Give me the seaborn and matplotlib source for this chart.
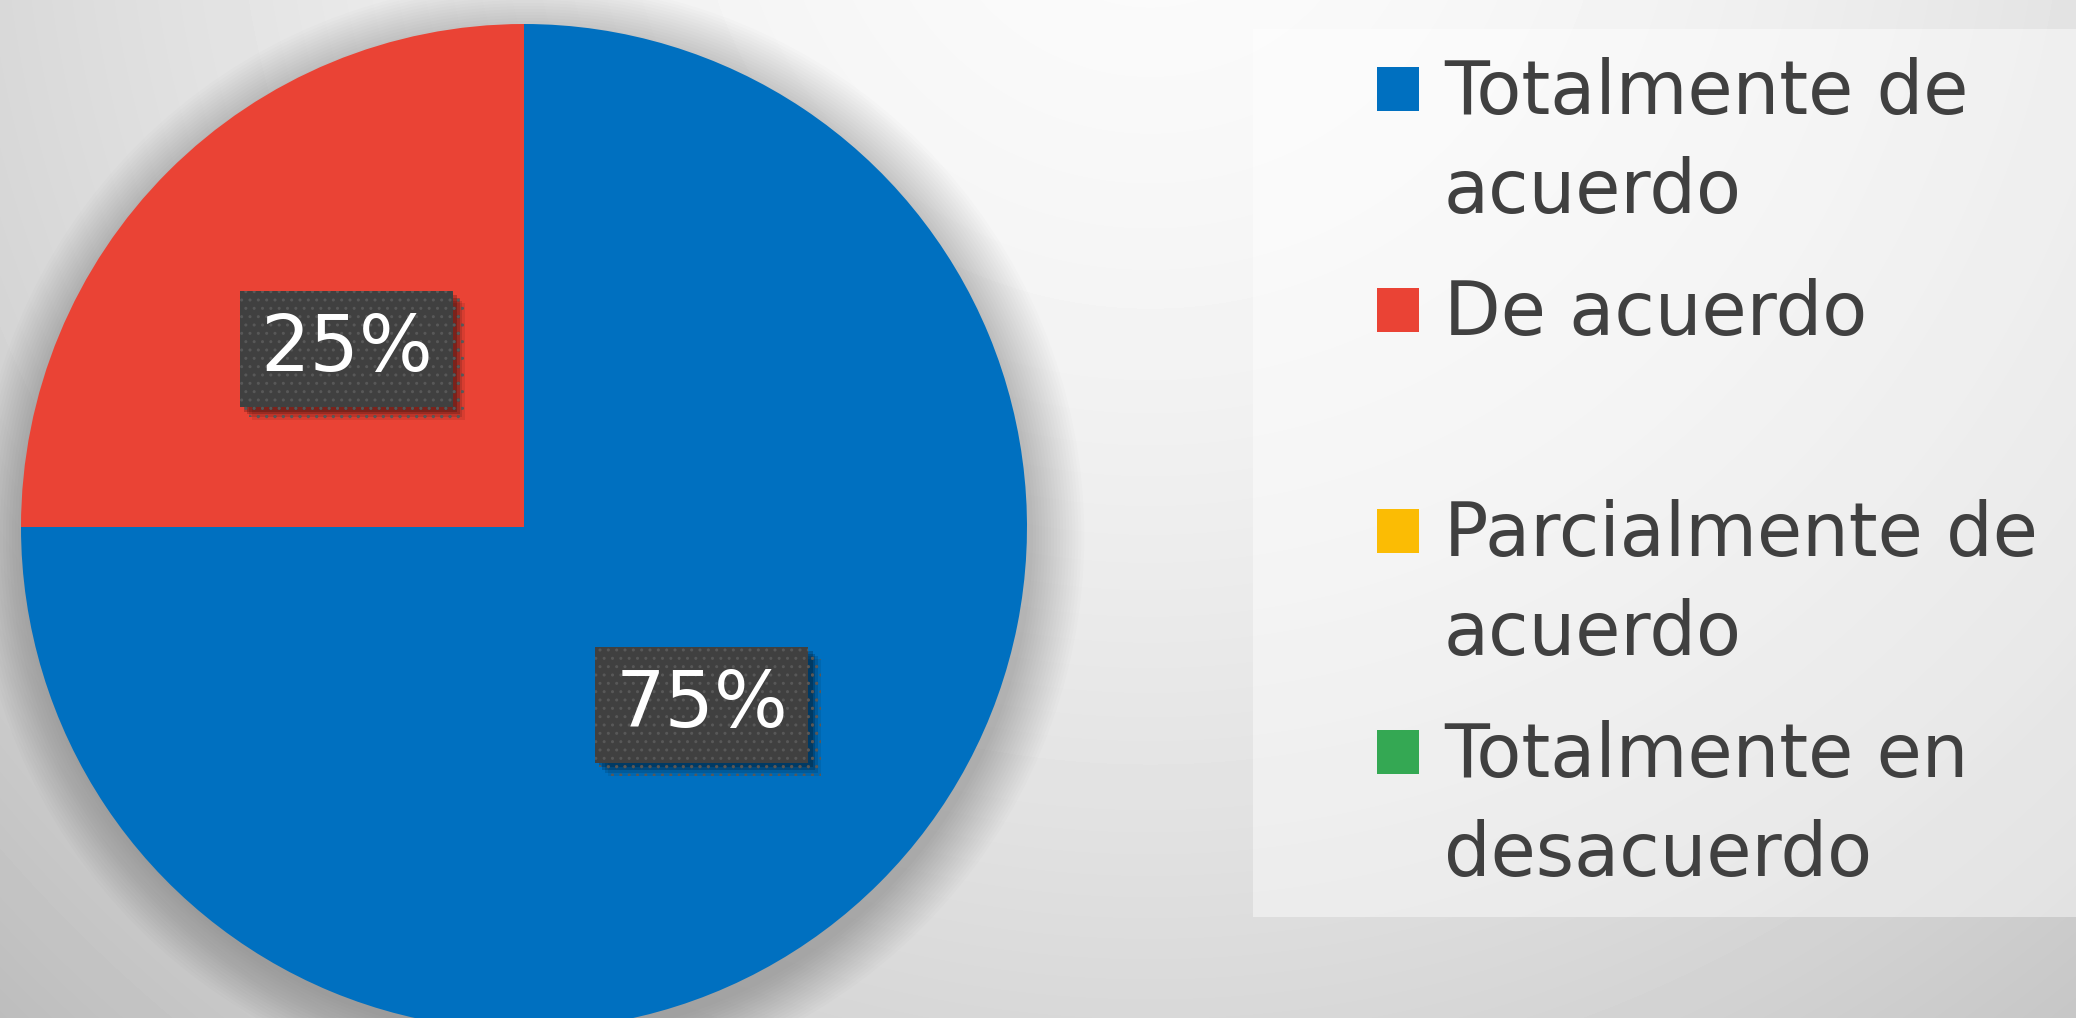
import numpy as np
import matplotlib
matplotlib.use("Agg")
import matplotlib.pyplot as plt
import matplotlib.patheffects as pe
from matplotlib.patches import Rectangle, Circle
import seaborn as sns

# --- data ---
categories = ["Totalmente de acuerdo", "De acuerdo", "Parcialmente de acuerdo", "Totalmente en desacuerdo"]
legend_labels = ["Totalmente de\nacuerdo", "De acuerdo", "Parcialmente de\nacuerdo", "Totalmente en\ndesacuerdo"]
values = [75, 25, 0, 0]
colors = ["#0070c0", "#ea4335", "#fbbc04", "#34a853"]

sns.set_theme(style="white")
plt.rcParams['font.family'] = ['DejaVu Sans']

W, H = 2076, 1018
fig = plt.figure(figsize=(W / 100, H / 100), dpi=100)

# --- background: soft radial grey gradient ---
bg = fig.add_axes([0, 0, 1, 1], zorder=-10)
yy, xx = np.mgrid[0:H, 0:W]
d = np.hypot(xx - 1150, yy + 150) / 1500
shade = np.clip(0.985 - 0.21 * d ** 1.7, 0.74, 1)
bg.imshow(shade, cmap='gray', vmin=0, vmax=1, extent=[0, W, H, 0], aspect='auto')
bg.set_xlim(0, W)
bg.set_ylim(H, 0)
bg.axis('off')

# legend panel (semi transparent white)
bg.add_patch(Rectangle((1253, 29), 830, 888, facecolor='white', alpha=0.45, lw=0))

# --- pie ---
cx, cy, r = 524, 527, 503
ax = fig.add_axes([(cx - r) / W, (H - cy - r) / H, 2 * r / W, 2 * r / H])
ax.set_facecolor('none')

# soft drop shadow round the pie
for k in range(18):
    ax.add_patch(Circle((0.012, -0.018), 1 + 0.006 * k, color='black',
                        alpha=0.013, lw=0, zorder=0, clip_on=False))

wedges, texts, autotexts = ax.pie(
    values, colors=colors, startangle=90, counterclock=False,
    autopct=lambda p: f"{p:.0f}%" if p > 0 else "",
    pctdistance=0.5, wedgeprops=dict(linewidth=0),
    textprops=dict(color='white', fontsize=56))
for w in wedges:
    w.set_zorder(2)
    w.set_clip_on(False)

for t in autotexts:
    if not t.get_text():
        continue
    t.set_zorder(5)
    t.set_bbox(dict(boxstyle='square,pad=0.26', facecolor='#404040',
                    edgecolor='#585858', linewidth=0, hatch='..'))
    t.get_bbox_patch().set_path_effects([
        pe.SimplePatchShadow(offset=(9, -9), shadow_rgbFace='black', alpha=0.08),
        pe.SimplePatchShadow(offset=(7, -7), shadow_rgbFace='black', alpha=0.12),
        pe.SimplePatchShadow(offset=(5, -5), shadow_rgbFace='black', alpha=0.18),
        pe.SimplePatchShadow(offset=(3, -3), shadow_rgbFace='black', alpha=0.2),
        pe.Normal()])

ax.set_xlim(-1, 1)
ax.set_ylim(-1, 1)
ax.axis('off')

# --- legend ---
def fx(px):
    return px / W

def fy(py):
    return 1 - py / H

for i, (lab, col) in enumerate(zip(legend_labels, colors)):
    base = 114 + 221 * i
    fig.add_artist(Rectangle((fx(1377), fy(base - 3)), 42 / W, 44 / H,
                             transform=fig.transFigure, facecolor=col, lw=0))
    for j, line in enumerate(lab.split("\n")):
        fig.text(fx(1444), fy(base + 99 * j), line, fontsize=53,
                 color='#404040', va='baseline', ha='left')

fig.savefig("out.png", dpi=100)
